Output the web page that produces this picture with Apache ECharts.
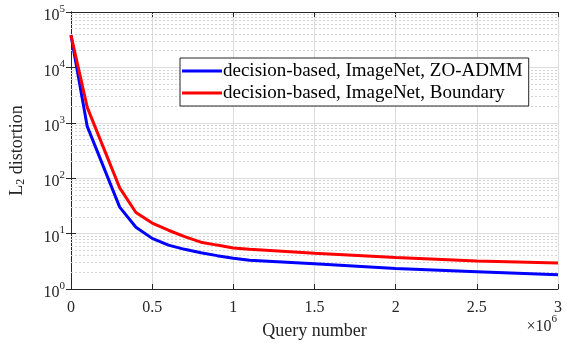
<!DOCTYPE html>
<html>
<head>
<meta charset="utf-8">
<script src="https://cdn.jsdelivr.net/npm/echarts@6/dist/echarts.min.js"></script>
<style>
  html, body { margin: 0; padding: 0; background: #fff; }
  #chart { width: 567px; height: 346px; }
</style>
</head>
<body>
<div id="chart"></div>
<script>
// query counts (raw)
const queries = [0, 1e5, 3e5, 4e5, 5e5, 6e5, 7e5, 8e5, 9e5, 1e6, 1.1e6, 1.5e6, 2e6, 2.5e6, 3e6]
const admm = [38000, 860, 30, 13, 8.2, 6.2, 5.2, 4.5, 4.0, 3.6, 3.3, 2.85, 2.35, 2.05, 1.8]
const boundary = [38000, 1900, 67, 24, 15.5, 11.5, 8.8, 7.0, 6.2, 5.5, 5.2, 4.4, 3.7, 3.2, 2.95]
const seriesNames = ['decision-based, ImageNet, ZO-ADMM', 'decision-based, ImageNet, Boundary']
const xTicks = [0, 0.5, 1, 1.5, 2, 2.5, 3]
const yDecades = [0, 1, 2, 3, 4, 5]

const font = 'Liberation Serif'
const ink = '#262626'

// minor log grid lines 2..9 x 10^k
let minorLines = []
for (let k = 0; k < 5; k++) {
  for (let m = 2; m <= 9; m++) {
    minorLines.push({ yAxis: m * Math.pow(10, k) })
  }
}

let chart = echarts.init(document.getElementById('chart'))
let option = {
  animation: false,
  textStyle: { fontFamily: font },
  grid: { left: 70, right: 9, top: 12, bottom: 57 },
  legend: {
    orient: 'vertical',
    left: 180,
    top: 58,
    padding: [3, 6, 3, 2],
    itemGap: 2,
    itemWidth: 40,
    itemHeight: 3,
    icon: 'rect',
    backgroundColor: '#fff',
    borderColor: ink,
    borderWidth: 1,
    borderRadius: 0,
    textStyle: { fontFamily: font, fontSize: 19, color: '#000', padding: [0, 0, 0, -4], lineHeight: 20 },
    data: seriesNames
  },
  xAxis: [
    {
      type: 'value',
      min: 0,
      max: 3e6,
      interval: 5e5,
      name: 'Query number',
      nameLocation: 'middle',
      nameGap: 33,
      nameTextStyle: { fontFamily: font, fontSize: 18, color: ink },
      axisLine: { lineStyle: { color: ink } },
      axisTick: { inside: true, length: 5, lineStyle: { color: ink } },
      axisLabel: {
        fontFamily: font, fontSize: 16, color: ink, margin: 11,
        formatter: v => String(Math.round(v / 1e5) / 10)
      },
      splitLine: { lineStyle: { color: '#dcdcdc', width: 1 } }
    },
    {
      type: 'value',
      position: 'top',
      min: 0,
      max: 3e6,
      interval: 5e5,
      axisLine: { lineStyle: { color: ink } },
      axisTick: { inside: true, length: 5, lineStyle: { color: ink } },
      axisLabel: { show: false },
      splitLine: { show: false }
    }
  ],
  yAxis: [
    {
      type: 'log',
      logBase: 10,
      min: 1,
      max: 1e5,
      name: '{b|L}{s|2}{b| distortion}',
      nameLocation: 'middle',
      nameGap: 44,
      nameRotate: 90,
      nameTextStyle: {
        rich: {
          b: { fontFamily: font, fontSize: 18, color: ink },
          s: { fontFamily: font, fontSize: 12, color: ink, padding: [8, 0, 0, 0] }
        }
      },
      axisLine: { show: true, lineStyle: { color: ink } },
      axisTick: { inside: true, length: 5, lineStyle: { color: ink } },
      axisLabel: {
        margin: 6,
        formatter: v => '{b|10}{s|' + Math.round(Math.log10(v)) + '}',
        rich: {
          b: { fontFamily: font, fontSize: 16, color: ink, padding: [8, 0, 0, 0] },
          s: { fontFamily: font, fontSize: 11, color: ink, padding: [0, 0, 6, 0] }
        }
      },
      splitLine: { lineStyle: { color: '#dcdcdc', width: 1 } }
    },
    {
      type: 'log',
      logBase: 10,
      min: 1,
      max: 1e5,
      position: 'right',
      axisLine: { show: true, lineStyle: { color: ink } },
      axisTick: { inside: true, length: 5, lineStyle: { color: ink } },
      axisLabel: { show: false },
      splitLine: { show: false }
    }
  ],
  graphic: [
    {
      type: 'text',
      right: 10,
      top: 314,
      style: {
        text: '{b|×10}{s|6}',
        rich: {
          b: { fontFamily: font, fontSize: 16, fill: ink, padding: [8, 0, 0, 0] },
          s: { fontFamily: font, fontSize: 11, fill: ink, padding: [0, 0, 6, 0] }
        }
      }
    }
  ],
  series: [
    {
      name: 'minor',
      type: 'line',
      data: [],
      silent: true,
      z: 0,
      markLine: {
        silent: true,
        z: 1,
        symbol: 'none',
        label: { show: false },
        lineStyle: { color: '#d4d4d4', type: [2, 2], width: 1 },
        data: minorLines
      }
    },
    {
      name: seriesNames[0],
      type: 'line',
      data: queries.map((q, i) => [q, admm[i]]),
      showSymbol: false,
      color: '#0000ff',
      lineStyle: { width: 3, color: '#0000ff' },
      z: 8
    },
    {
      name: seriesNames[1],
      type: 'line',
      data: queries.map((q, i) => [q, boundary[i]]),
      showSymbol: false,
      color: '#ff0000',
      lineStyle: { width: 3, color: '#ff0000' },
      z: 9
    }
  ]
}
chart.setOption(option)
</script>
</body>
</html>
